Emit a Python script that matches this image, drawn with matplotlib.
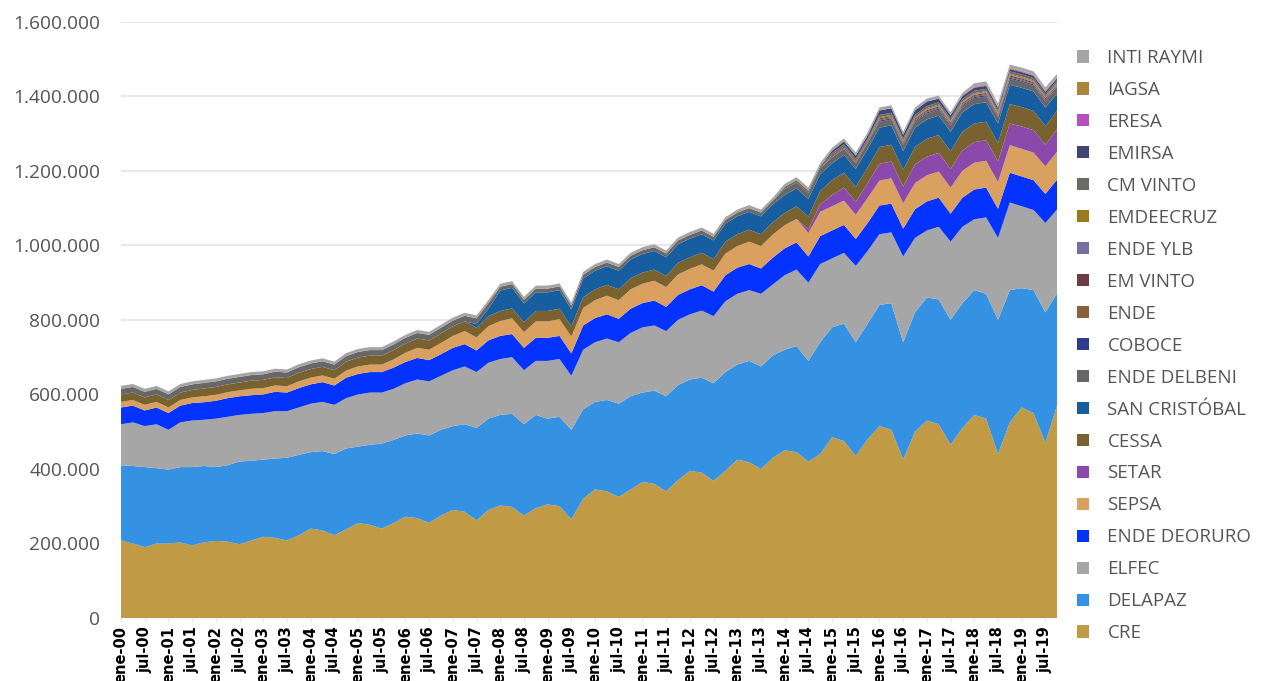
import matplotlib
matplotlib.use('Agg')
import matplotlib.pyplot as plt
from matplotlib.patches import Patch
import numpy as np

# quarterly samples (ene, abr, jul, oct) from 2000 to 2019, values in thousands
years = list(range(2000, 2020))

cre = [208, 200, 190, 200, 200, 203, 195, 203, 207, 205, 198, 208, 218, 215, 208, 222,
       240, 235, 222, 238, 255, 250, 240, 255, 272, 268, 255, 275, 290, 285, 262, 290,
       302, 298, 275, 295, 305, 300, 265, 320, 345, 340, 325, 345, 365, 360, 340, 370,
       395, 390, 368, 395, 425, 418, 400, 430, 450, 445, 420, 440, 485, 475, 435, 480,
       515, 505, 425, 500, 530, 520, 465, 510, 545, 535, 440, 525, 565, 550, 470, 572]
delapaz = [202, 208, 215, 202, 198, 202, 210, 205, 198, 205, 222, 214, 207, 213, 222, 216,
           205, 213, 218, 217, 205, 215, 228, 223, 218, 227, 235, 230, 225, 235, 248, 245,
           243, 250, 245, 250, 230, 240, 240, 240, 235, 245, 250, 250, 240, 250, 255, 255,
           245, 255, 262, 265, 255, 272, 275, 275, 270, 285, 270, 300, 295, 315, 305, 310,
           325, 340, 315, 320, 330, 335, 335, 335, 335, 335, 360, 355, 320, 330, 350, 300]
elfec = [110, 117, 110, 118, 107, 120, 125, 124, 130, 130, 125, 126, 125, 127, 125, 127,
         130, 132, 132, 135, 140, 140, 137, 137, 140, 145, 145, 145, 150, 155, 150, 150,
         150, 152, 145, 145, 155, 155, 145, 160, 160, 165, 165, 170, 175, 175, 175, 175,
         175, 180, 180, 190, 190, 190, 195, 190, 200, 205, 210, 210, 185, 190, 205, 195,
         190, 190, 230, 200, 180, 195, 210, 205, 190, 205, 220, 235, 220, 215, 240, 225]
deoruro = [45, 45, 42, 45, 45, 45, 47, 47, 48, 50, 50, 50, 50, 52, 50, 52,
           52, 53, 52, 55, 55, 55, 55, 57, 57, 58, 57, 58, 60, 60, 58, 60,
           62, 62, 60, 62, 62, 62, 60, 65, 65, 65, 63, 65, 65, 67, 65, 67,
           67, 68, 66, 70, 70, 70, 68, 72, 72, 73, 70, 75, 75, 75, 72, 75,
           77, 77, 75, 77, 78, 78, 75, 78, 80, 80, 78, 80, 80, 80, 78, 80]
sepsa = [15, 15, 15, 15, 15, 15, 15, 16, 16, 16, 16, 17, 17, 17, 17, 18,
         18, 18, 18, 19, 20, 20, 20, 22, 25, 27, 28, 30, 32, 35, 35, 38,
         40, 42, 42, 44, 44, 45, 45, 47, 48, 50, 50, 52, 52, 53, 53, 55,
         55, 56, 56, 58, 58, 60, 60, 62, 62, 63, 63, 65, 65, 65, 65, 67,
         67, 68, 68, 70, 70, 70, 70, 72, 72, 72, 72, 74, 74, 74, 74, 75]
setar = [0] * 58 + [10, 20, 30, 35, 35, 40, 45, 45, 45, 50, 50, 50, 50, 55,
                    55, 55, 55, 58, 60, 60, 58, 60]
cessa = [20, 20, 20, 20, 20, 20, 20, 21, 21, 21, 21, 22, 22, 22, 22, 23,
         23, 23, 23, 24, 24, 24, 24, 25, 25, 25, 25, 26, 26, 26, 26, 27,
         27, 27, 27, 28, 28, 28, 28, 29, 29, 29, 29, 30, 30, 30, 30, 31,
         31, 31, 31, 32, 32, 32, 32, 33, 33, 34, 34, 36, 40, 40, 40, 42,
         45, 45, 45, 47, 48, 48, 48, 50, 50, 50, 50, 52, 52, 52, 50, 50]
san_cristobal = [0] * 30 + [10, 20, 55, 55, 50, 50, 50, 50, 45, 50, 50, 50, 50, 50,
                            50, 50, 50, 50, 50, 50, 50, 48, 48, 48, 48, 48, 48, 48, 48, 45,
                            45, 48, 48, 50, 52, 52, 50, 52, 52, 52, 52, 52, 52, 52, 52, 52,
                            52, 52, 50, 45]
ende_delbeni = [15] * 32 + [10] * 24 + [16] * 24
coboce = [0] * 64 + [3] * 16
ende = [0] * 60 + [3] * 20
em_vinto = [0] * 60 + [3] * 20
ende_ylb = [0] * 68 + [2] * 12
emdeecruz = [0] * 64 + [3] * 16
cm_vinto = [0] * 56 + [6] * 24
emirsa = [0] * 60 + [6, 8, 8, 8, 12, 12, 10, 12, 12, 10, 8, 8, 8, 8, 6, 6, 6, 6, 6, 6]
eresa = [0] * 72 + [2] * 8
iagsa = [0] * 72 + [2] * 8
inti_raymi = [8] * 80

# bottom to top
series = [
    ('CRE', cre, '#c19a45'),
    ('DELAPAZ', delapaz, '#3592e3'),
    ('ELFEC', elfec, '#a6a6a6'),
    ('ENDE DEORURO', deoruro, '#0432ff'),
    ('SEPSA', sepsa, '#d9a060'),
    ('SETAR', setar, '#8b4aab'),
    ('CESSA', cessa, '#7a6230'),
    ('SAN CRISTÓBAL', san_cristobal, '#165ea0'),
    ('ENDE DELBENI', ende_delbeni, '#676767'),
    ('COBOCE', coboce, '#2e3a8c'),
    ('ENDE', ende, '#8b5e3c'),
    ('EM VINTO', em_vinto, '#6e3b4a'),
    ('ENDE YLB', ende_ylb, '#7470a0'),
    ('EMDEECRUZ', emdeecruz, '#9c7a1e'),
    ('CM VINTO', cm_vinto, '#6b6b63'),
    ('EMIRSA', emirsa, '#414574'),
    ('ERESA', eresa, '#b84fbf'),
    ('IAGSA', iagsa, '#a8873a'),
    ('INTI RAYMI', inti_raymi, '#a5a5a5'),
]

tick_labels = []
for y in years:
    yy = f'{y % 100:02d}'
    tick_labels += [f'ene-{yy}', f'jul-{yy}']

months = np.arange(len(cre)) * 3

fig = plt.figure(figsize=(12.66, 6.81), dpi=100)
ax = fig.add_axes([0.0956, 0.0925, 0.7395, 0.8755])

ax.stackplot(months, [np.array(s[1]) * 1000 for s in series],
             colors=[s[2] for s in series], linewidth=0)

ax.set_xlim(0, months[-1])
ax.set_ylim(0, 1600000)
ax.set_yticks(np.arange(0, 1600001, 200000))
ax.set_yticklabels([f'{int(v):,}'.replace(',', '.') for v in ax.get_yticks()],
                   fontsize=13.8, color='#555555', family='Open Sans')
ax.set_xticks(np.arange(0, len(tick_labels)) * 6)
ax.set_xticklabels(tick_labels, rotation=90, fontsize=10.5, fontweight='bold',
                   family=['Liberation Sans Narrow', 'DejaVu Sans'], color='black')
ax.tick_params(axis='y', length=0, pad=15)
ax.tick_params(axis='x', length=3, color='#e6e6e6', pad=3)
ax.grid(axis='y', color='#e8e8e8', linewidth=1.5)
ax.set_axisbelow(True)
for sp in ax.spines.values():
    sp.set_visible(False)

handles = [Patch(facecolor=c, edgecolor='none', label=n) for n, _, c in series][::-1]
fig.legend(handles=handles, loc='upper left', bbox_to_anchor=(0.837, 0.953),
           frameon=False, prop={'family': 'Open Sans', 'size': 13.5},
           labelcolor='#555555', labelspacing=0.745, handlelength=0.65,
           handleheight=0.65, handletextpad=1.0)

plt.savefig('out.png', dpi=100)
